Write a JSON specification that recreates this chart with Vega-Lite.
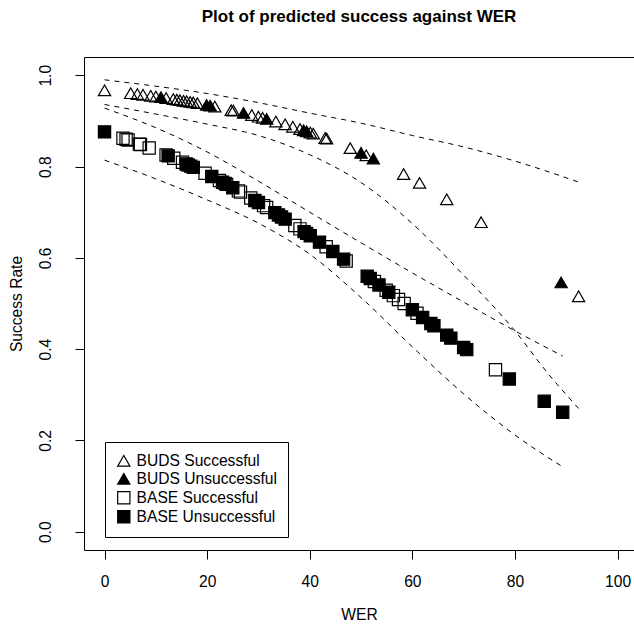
{
  "$schema": "https://vega.github.io/schema/vega-lite/v6.json",
  "width": 550,
  "height": 493,
  "autosize": {"type": "none"},
  "padding": {"left": 84, "top": 57, "right": 0, "bottom": 75},
  "background": "white",
  "config": {
    "font": "Liberation Sans",
    "view": {"stroke": "black", "strokeWidth": 1},
    "axis": {
      "grid": false, "domain": false, "tickColor": "black", "tickSize": 9, "tickWidth": 1,
      "labelColor": "black", "labelFont": "Liberation Sans", "labelFontSize": 15.6,
      "titleColor": "black", "titleFont": "Liberation Sans", "titleFontSize": 15.6, "titleFontWeight": "normal"
    },
    "legend": {"title": null, "orient": "none", "legendX": 21, "legendY": 385, "strokeColor": "black", "fillColor": "white", "padding": 11, "rowPadding": 1, "labelFontSize": 15.6, "labelFont": "Liberation Sans", "labelColor": "black", "labelOffset": 5, "symbolStrokeWidth": 1.2}
  },
  "title": {"text": "Plot of predicted success against WER", "font": "Liberation Sans", "fontSize": 17, "fontWeight": "bold", "color": "black", "anchor": "middle", "offset": 31},
  "datasets": {
    "points": [
      {"wer": 0, "rate": 0.967, "group": "BUDS Successful"},
      {"wer": 5.1, "rate": 0.9607, "group": "BUDS Successful"},
      {"wer": 6.4, "rate": 0.9589, "group": "BUDS Successful"},
      {"wer": 7.5, "rate": 0.9573, "group": "BUDS Successful"},
      {"wer": 9.0, "rate": 0.9551, "group": "BUDS Successful"},
      {"wer": 10.0, "rate": 0.9535, "group": "BUDS Successful"},
      {"wer": 11.0, "rate": 0.9519, "group": "BUDS Unsuccessful"},
      {"wer": 12.0, "rate": 0.9502, "group": "BUDS Successful"},
      {"wer": 13.4, "rate": 0.9478, "group": "BUDS Successful"},
      {"wer": 14.1, "rate": 0.9465, "group": "BUDS Successful"},
      {"wer": 14.7, "rate": 0.9454, "group": "BUDS Successful"},
      {"wer": 15.4, "rate": 0.9441, "group": "BUDS Successful"},
      {"wer": 16.0, "rate": 0.943, "group": "BUDS Successful"},
      {"wer": 16.7, "rate": 0.9416, "group": "BUDS Successful"},
      {"wer": 17.3, "rate": 0.9404, "group": "BUDS Successful"},
      {"wer": 18.1, "rate": 0.9388, "group": "BUDS Successful"},
      {"wer": 19.9, "rate": 0.935, "group": "BUDS Unsuccessful"},
      {"wer": 20.6, "rate": 0.9334, "group": "BUDS Unsuccessful"},
      {"wer": 21.5, "rate": 0.9314, "group": "BUDS Successful"},
      {"wer": 24.7, "rate": 0.9236, "group": "BUDS Successful"},
      {"wer": 25.1, "rate": 0.9227, "group": "BUDS Successful"},
      {"wer": 27.1, "rate": 0.9174, "group": "BUDS Unsuccessful"},
      {"wer": 28.7, "rate": 0.9129, "group": "BUDS Successful"},
      {"wer": 30.0, "rate": 0.9092, "group": "BUDS Successful"},
      {"wer": 30.8, "rate": 0.9067, "group": "BUDS Successful"},
      {"wer": 31.6, "rate": 0.9043, "group": "BUDS Unsuccessful"},
      {"wer": 33.4, "rate": 0.8986, "group": "BUDS Successful"},
      {"wer": 35.2, "rate": 0.8925, "group": "BUDS Successful"},
      {"wer": 36.7, "rate": 0.8872, "group": "BUDS Successful"},
      {"wer": 38.1, "rate": 0.8821, "group": "BUDS Successful"},
      {"wer": 38.8, "rate": 0.8794, "group": "BUDS Unsuccessful"},
      {"wer": 39.4, "rate": 0.8772, "group": "BUDS Unsuccessful"},
      {"wer": 40.1, "rate": 0.8744, "group": "BUDS Successful"},
      {"wer": 40.7, "rate": 0.8721, "group": "BUDS Successful"},
      {"wer": 43.0, "rate": 0.8625, "group": "BUDS Successful"},
      {"wer": 43.3, "rate": 0.8613, "group": "BUDS Successful"},
      {"wer": 47.9, "rate": 0.8403, "group": "BUDS Successful"},
      {"wer": 50.0, "rate": 0.83, "group": "BUDS Unsuccessful"},
      {"wer": 51.0, "rate": 0.8248, "group": "BUDS Successful"},
      {"wer": 52.4, "rate": 0.8175, "group": "BUDS Unsuccessful"},
      {"wer": 58.3, "rate": 0.7836, "group": "BUDS Successful"},
      {"wer": 61.4, "rate": 0.7642, "group": "BUDS Successful"},
      {"wer": 66.7, "rate": 0.7281, "group": "BUDS Successful"},
      {"wer": 73.4, "rate": 0.6781, "group": "BUDS Successful"},
      {"wer": 89.0, "rate": 0.5461, "group": "BUDS Unsuccessful"},
      {"wer": 92.4, "rate": 0.5158, "group": "BUDS Successful"},
      {"wer": 0, "rate": 0.876, "group": "BASE Unsuccessful"},
      {"wer": 3.6, "rate": 0.8622, "group": "BASE Successful"},
      {"wer": 4.2, "rate": 0.8598, "group": "BASE Successful"},
      {"wer": 4.6, "rate": 0.8582, "group": "BASE Successful"},
      {"wer": 6.8, "rate": 0.8491, "group": "BASE Successful"},
      {"wer": 7.0, "rate": 0.8481, "group": "BASE Successful"},
      {"wer": 8.7, "rate": 0.8408, "group": "BASE Successful"},
      {"wer": 12.0, "rate": 0.8253, "group": "BASE Successful"},
      {"wer": 12.4, "rate": 0.8234, "group": "BASE Unsuccessful"},
      {"wer": 13.5, "rate": 0.818, "group": "BASE Successful"},
      {"wer": 15.2, "rate": 0.8094, "group": "BASE Successful"},
      {"wer": 15.9, "rate": 0.8057, "group": "BASE Unsuccessful"},
      {"wer": 16.3, "rate": 0.8036, "group": "BASE Unsuccessful"},
      {"wer": 16.8, "rate": 0.8009, "group": "BASE Unsuccessful"},
      {"wer": 17.3, "rate": 0.7982, "group": "BASE Unsuccessful"},
      {"wer": 19.6, "rate": 0.7855, "group": "BASE Successful"},
      {"wer": 20.9, "rate": 0.7782, "group": "BASE Unsuccessful"},
      {"wer": 22.4, "rate": 0.7694, "group": "BASE Successful"},
      {"wer": 23.0, "rate": 0.7658, "group": "BASE Unsuccessful"},
      {"wer": 23.5, "rate": 0.7628, "group": "BASE Unsuccessful"},
      {"wer": 23.8, "rate": 0.761, "group": "BASE Successful"},
      {"wer": 25.0, "rate": 0.7536, "group": "BASE Unsuccessful"},
      {"wer": 26.1, "rate": 0.7467, "group": "BASE Successful"},
      {"wer": 26.5, "rate": 0.744, "group": "BASE Successful"},
      {"wer": 28.5, "rate": 0.7311, "group": "BASE Successful"},
      {"wer": 29.3, "rate": 0.7257, "group": "BASE Unsuccessful"},
      {"wer": 30.0, "rate": 0.7211, "group": "BASE Unsuccessful"},
      {"wer": 31.0, "rate": 0.7144, "group": "BASE Successful"},
      {"wer": 31.6, "rate": 0.7101, "group": "BASE Successful"},
      {"wer": 33.2, "rate": 0.6991, "group": "BASE Unsuccessful"},
      {"wer": 33.9, "rate": 0.694, "group": "BASE Unsuccessful"},
      {"wer": 34.5, "rate": 0.6897, "group": "BASE Unsuccessful"},
      {"wer": 35.2, "rate": 0.6848, "group": "BASE Unsuccessful"},
      {"wer": 37.1, "rate": 0.6708, "group": "BASE Successful"},
      {"wer": 38.1, "rate": 0.6635, "group": "BASE Successful"},
      {"wer": 38.9, "rate": 0.6575, "group": "BASE Unsuccessful"},
      {"wer": 39.4, "rate": 0.6536, "group": "BASE Unsuccessful"},
      {"wer": 40.1, "rate": 0.6484, "group": "BASE Unsuccessful"},
      {"wer": 41.9, "rate": 0.6344, "group": "BASE Unsuccessful"},
      {"wer": 43.2, "rate": 0.6243, "group": "BASE Successful"},
      {"wer": 44.5, "rate": 0.614, "group": "BASE Unsuccessful"},
      {"wer": 46.6, "rate": 0.5972, "group": "BASE Unsuccessful"},
      {"wer": 47.1, "rate": 0.5931, "group": "BASE Successful"},
      {"wer": 51.2, "rate": 0.5597, "group": "BASE Unsuccessful"},
      {"wer": 51.8, "rate": 0.5548, "group": "BASE Unsuccessful"},
      {"wer": 52.6, "rate": 0.5481, "group": "BASE Successful"},
      {"wer": 53.5, "rate": 0.5407, "group": "BASE Unsuccessful"},
      {"wer": 54.9, "rate": 0.529, "group": "BASE Successful"},
      {"wer": 55.4, "rate": 0.5247, "group": "BASE Unsuccessful"},
      {"wer": 56.3, "rate": 0.5172, "group": "BASE Successful"},
      {"wer": 57.3, "rate": 0.5087, "group": "BASE Successful"},
      {"wer": 58.4, "rate": 0.4998, "group": "BASE Successful"},
      {"wer": 60.0, "rate": 0.4863, "group": "BASE Unsuccessful"},
      {"wer": 60.9, "rate": 0.4788, "group": "BASE Successful"},
      {"wer": 62.0, "rate": 0.4695, "group": "BASE Unsuccessful"},
      {"wer": 63.6, "rate": 0.4561, "group": "BASE Unsuccessful"},
      {"wer": 64.2, "rate": 0.4512, "group": "BASE Unsuccessful"},
      {"wer": 66.7, "rate": 0.4307, "group": "BASE Unsuccessful"},
      {"wer": 67.5, "rate": 0.4241, "group": "BASE Unsuccessful"},
      {"wer": 70.0, "rate": 0.4037, "group": "BASE Unsuccessful"},
      {"wer": 70.6, "rate": 0.3989, "group": "BASE Unsuccessful"},
      {"wer": 76.2, "rate": 0.3548, "group": "BASE Successful"},
      {"wer": 78.9, "rate": 0.3345, "group": "BASE Unsuccessful"},
      {"wer": 85.7, "rate": 0.2858, "group": "BASE Unsuccessful"},
      {"wer": 89.3, "rate": 0.2617, "group": "BASE Unsuccessful"}
    ],
    "bands": [
      {"wer": 0, "rate": 0.99, "band": "BUDS upper"},
      {"wer": 10, "rate": 0.976, "band": "BUDS upper"},
      {"wer": 20, "rate": 0.96, "band": "BUDS upper"},
      {"wer": 30, "rate": 0.94, "band": "BUDS upper"},
      {"wer": 40, "rate": 0.917, "band": "BUDS upper"},
      {"wer": 50, "rate": 0.895, "band": "BUDS upper"},
      {"wer": 60, "rate": 0.868, "band": "BUDS upper"},
      {"wer": 70, "rate": 0.843, "band": "BUDS upper"},
      {"wer": 80, "rate": 0.812, "band": "BUDS upper"},
      {"wer": 92.4, "rate": 0.766, "band": "BUDS upper"},
      {"wer": 0, "rate": 0.936, "band": "BUDS lower"},
      {"wer": 10, "rate": 0.915, "band": "BUDS lower"},
      {"wer": 20, "rate": 0.893, "band": "BUDS lower"},
      {"wer": 30, "rate": 0.868, "band": "BUDS lower"},
      {"wer": 40, "rate": 0.826, "band": "BUDS lower"},
      {"wer": 50, "rate": 0.765, "band": "BUDS lower"},
      {"wer": 60, "rate": 0.675, "band": "BUDS lower"},
      {"wer": 70, "rate": 0.562, "band": "BUDS lower"},
      {"wer": 80, "rate": 0.44, "band": "BUDS lower"},
      {"wer": 86.2, "rate": 0.35, "band": "BUDS lower"},
      {"wer": 92.4, "rate": 0.27, "band": "BUDS lower"},
      {"wer": 0, "rate": 0.928, "band": "BASE upper"},
      {"wer": 10, "rate": 0.885, "band": "BASE upper"},
      {"wer": 20, "rate": 0.832, "band": "BASE upper"},
      {"wer": 30, "rate": 0.768, "band": "BASE upper"},
      {"wer": 40, "rate": 0.7, "band": "BASE upper"},
      {"wer": 50, "rate": 0.633, "band": "BASE upper"},
      {"wer": 60, "rate": 0.567, "band": "BASE upper"},
      {"wer": 70, "rate": 0.503, "band": "BASE upper"},
      {"wer": 80, "rate": 0.44, "band": "BASE upper"},
      {"wer": 89.3, "rate": 0.385, "band": "BASE upper"},
      {"wer": 0, "rate": 0.814, "band": "BASE lower"},
      {"wer": 10, "rate": 0.773, "band": "BASE lower"},
      {"wer": 20, "rate": 0.727, "band": "BASE lower"},
      {"wer": 30, "rate": 0.676, "band": "BASE lower"},
      {"wer": 40, "rate": 0.608, "band": "BASE lower"},
      {"wer": 50, "rate": 0.513, "band": "BASE lower"},
      {"wer": 60, "rate": 0.405, "band": "BASE lower"},
      {"wer": 70, "rate": 0.302, "band": "BASE lower"},
      {"wer": 80, "rate": 0.212, "band": "BASE lower"},
      {"wer": 89.3, "rate": 0.142, "band": "BASE lower"}
    ]
  },
  "layer": [
    {
      "data": {"name": "bands"},
      "mark": {"type": "line", "color": "black", "strokeWidth": 1, "strokeDash": [5, 5], "interpolate": "monotone"},
      "encoding": {
        "x": {"field": "wer", "type": "quantitative", "scale": {"domain": [-4, 103.2], "nice": false, "zero": false},
          "axis": {"title": "WER", "values": [0, 20, 40, 60, 80, 100], "labelPadding": 15, "titlePadding": 18}},
        "y": {"field": "rate", "type": "quantitative", "scale": {"domain": [-0.04, 1.04], "nice": false, "zero": false},
          "axis": {"title": "Success Rate", "values": [0, 0.2, 0.4, 0.6, 0.8, 1.0], "format": ".1f", "labelAngle": 270, "labelAlign": "center", "labelBaseline": "middle", "labelPadding": 30, "titlePadding": 14}},
        "detail": {"field": "band", "type": "nominal"}
      }
    },
    {
      "data": {"name": "points"},
      "mark": {"type": "point", "filled": true, "strokeWidth": 1.2, "opacity": 1},
      "encoding": {
        "x": {"field": "wer", "type": "quantitative"},
        "y": {"field": "rate", "type": "quantitative"},
        "shape": {"field": "group", "type": "nominal",
          "scale": {"domain": ["BUDS Successful", "BUDS Unsuccessful", "BASE Successful", "BASE Unsuccessful"], "range": ["triangle-up", "triangle-up", "square", "square"]}},
        "fill": {"field": "group", "type": "nominal",
          "scale": {"domain": ["BUDS Successful", "BUDS Unsuccessful", "BASE Successful", "BASE Unsuccessful"], "range": ["transparent", "black", "transparent", "black"]}},
        "stroke": {"field": "group", "type": "nominal",
          "scale": {"domain": ["BUDS Successful", "BUDS Unsuccessful", "BASE Successful", "BASE Unsuccessful"], "range": ["black", "black", "black", "black"]}},
        "size": {"field": "group", "type": "nominal",
          "scale": {"domain": ["BUDS Successful", "BUDS Unsuccessful", "BASE Successful", "BASE Unsuccessful"], "range": [150, 150, 55, 55]}}
      }
    }
  ]
}
